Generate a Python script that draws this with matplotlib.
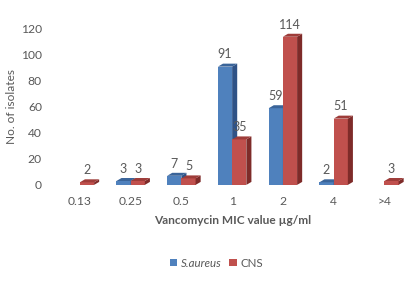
import matplotlib
matplotlib.use("Agg")
import matplotlib.pyplot as plt
from matplotlib.patches import Polygon, Patch

categories = ["0.13", "0.25", "0.5", "1", "2", "4", ">4"]
s_aureus = [0, 3, 7, 91, 59, 2, 0]
cns = [2, 3, 5, 35, 114, 51, 3]

plt.rcParams['font.family'] = ['Lato', 'DejaVu Sans']
grey = "#595959"
blue, blue_side, blue_top = "#4F81BD", "#2F5286", "#3A6499"
red, red_side, red_top = "#C0504D", "#7E2B29", "#9E3C39"

fig = plt.figure(figsize=(4.16, 2.81), dpi=100)
ax = fig.add_axes([0.131, 0.342, 0.854, 0.555])

w = 0.28
dx, dy = 0.1, 2.3

def bar3d(x0, h, front, side, top, label):
    if h <= 0:
        return
    ax.bar(x0, h, width=w, align='edge', color=front, zorder=3)
    x1 = x0 + w
    ax.add_patch(Polygon([(x1, 0), (x1 + dx, dy), (x1 + dx, h + dy), (x1, h)],
                         closed=True, facecolor=side, edgecolor='none', zorder=3))
    ax.add_patch(Polygon([(x0, h), (x1, h), (x1 + dx, h + dy), (x0 + dx, h + dy)],
                         closed=True, facecolor=top, edgecolor='none', zorder=3))
    ax.text(x0 + w / 2, h + dy + 2.5, str(label), ha='center', va='bottom',
            fontsize=9, color=grey, clip_on=False, zorder=5)

for i, (a, c) in enumerate(zip(s_aureus, cns)):
    bar3d(i - w, a, blue, blue_side, blue_top, a)
    bar3d(i, c, red, red_side, red_top, c)

ax.set_xlim(-0.5, 6.5)
ax.set_ylim(0, 120)
ax.set_yticks(range(0, 121, 20))
ax.set_xticks(range(len(categories)))
ax.set_xticklabels(categories)
for s in ax.spines.values():
    s.set_visible(False)
ax.tick_params(axis='both', length=0, labelsize=8.7, colors=grey)
ax.tick_params(axis='x', pad=8)
ax.tick_params(axis='y', pad=9)
ax.set_ylabel("No. of isolates", fontsize=8.6, color=grey, labelpad=3)
ax.set_xlabel("Vancomycin MIC value µg/ml", fontsize=8.6, color=grey,
              fontweight='bold', labelpad=6)

handles = [Patch(facecolor=blue, label="S.aureus"), Patch(facecolor=red, label="CNS")]
leg = fig.legend(handles=handles, loc='center', bbox_to_anchor=(0.52, 0.064),
                 ncol=2, frameon=False, fontsize=8.3, handlelength=0.65,
                 handleheight=0.65, handletextpad=0.3, columnspacing=0.7)
for t in leg.get_texts():
    t.set_color(grey)
leg.get_texts()[0].set_fontstyle('italic')

fig.savefig("out.png", dpi=100)
